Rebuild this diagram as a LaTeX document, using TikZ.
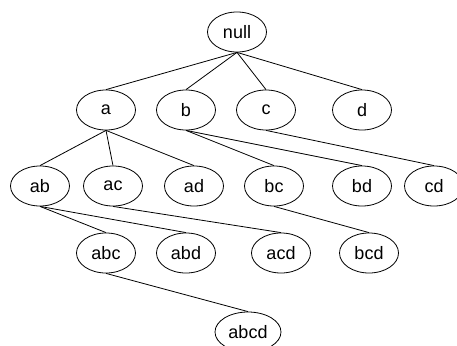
\documentclass[tikz,border=0pt]{standalone}
\usepackage{fontspec}
\setmainfont{Liberation Sans}
\usetikzlibrary{shapes.geometric}
\begin{document}
\begin{tikzpicture}[x=1pt,y=-1pt,
  itemset/.style={draw, ellipse, line width=0.8pt, minimum width=59pt, minimum height=40pt, inner sep=0pt, font=\fontsize{18}{20}\selectfont},
  link/.style={line width=0.8pt}]
\useasboundingbox (0,0) rectangle (457,345);
\node[itemset] (null) at (237,32) {null};
\node[itemset] (a) at (106,110) {a};
\node[itemset] (b) at (186,110) {b};
\node[itemset] (c) at (266,110) {c};
\node[itemset] (d) at (362,110) {d};
\node[itemset] (ab) at (40,186) {ab};
\node[itemset] (ac) at (113,186) {ac};
\node[itemset] (ad) at (194,186) {ad};
\node[itemset] (bc) at (274,186) {bc};
\node[itemset] (bd) at (362,186) {bd};
\node[itemset] (cd) at (434,186) {cd};
\node[itemset] (abc) at (106,253) {abc};
\node[itemset] (abd) at (186,253) {abd};
\node[itemset] (acd) at (281,253) {acd};
\node[itemset] (bcd) at (369,253) {bcd};
\node[itemset, minimum width=66pt] (abcd) at (248,332) {abcd};
\foreach \p/\c in {null/a,null/b,null/c,null/d,a/ab,a/ac,a/ad,b/bc,b/bd,c/cd,ab/abc,ab/abd,ac/acd,bc/bcd,abc/abcd}
  \draw[link] (\p.south) -- (\c.north);
\end{tikzpicture}
\end{document}
